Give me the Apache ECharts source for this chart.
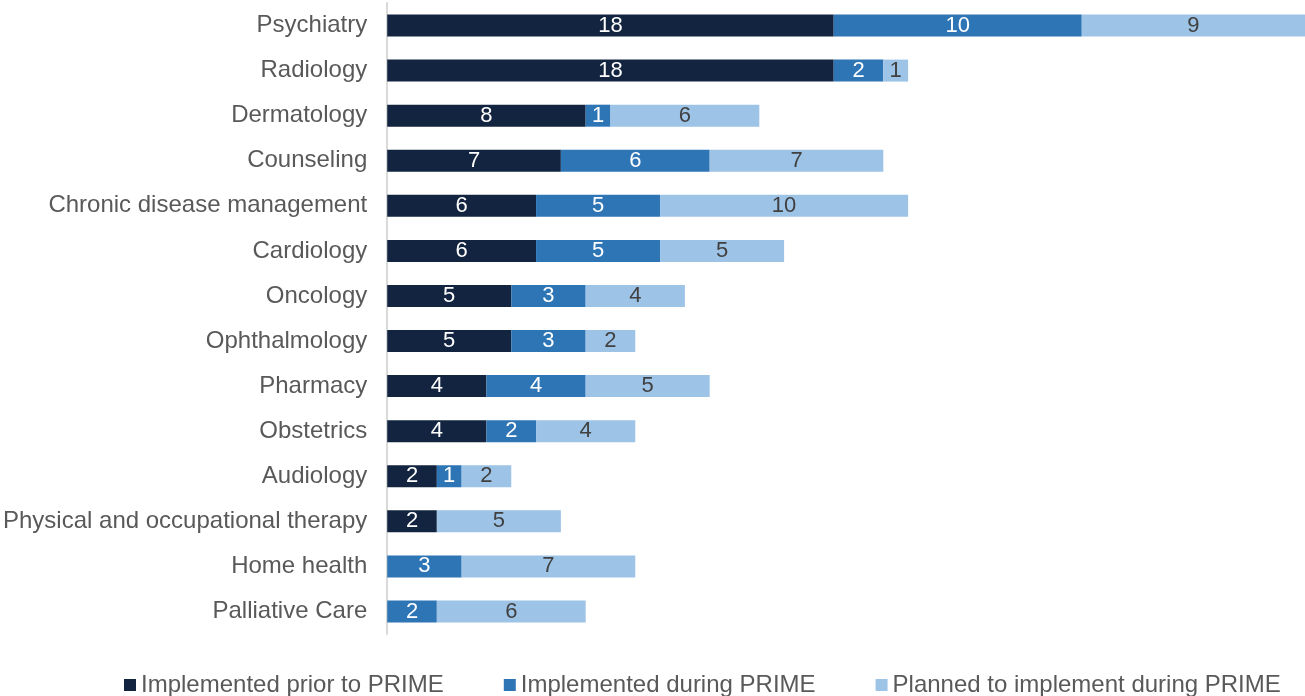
<!DOCTYPE html>
<html>
<head>
<meta charset="utf-8">
<script src="https://cdn.jsdelivr.net/npm/echarts@6/dist/echarts.min.js"></script>
<style>
  html, body { margin: 0; padding: 0; background: #fff; }
  #chart { width: 1305px; height: 696px; }
</style>
</head>
<body>
<div id="chart"></div>
<script>
// Service areas, listed top to bottom
const categories = [
  'Psychiatry', 'Radiology', 'Dermatology', 'Counseling',
  'Chronic disease management', 'Cardiology', 'Oncology', 'Ophthalmology',
  'Pharmacy', 'Obstetrics', 'Audiology', 'Physical and occupational therapy',
  'Home health', 'Palliative Care'
];
const seriesNames = [
  'Implemented prior to PRIME',
  'Implemented during PRIME',
  'Planned to implement during PRIME'
];
const priorToPrime = [18, 18, 8, 7, 6, 6, 5, 5, 4, 4, 2, 2, 0, 0];
const duringPrime  = [10, 2, 1, 6, 5, 5, 3, 3, 4, 2, 1, 0, 3, 2];
const plannedPrime = [9, 1, 6, 7, 10, 5, 4, 2, 5, 4, 2, 5, 7, 6];

const FONT = '"Liberation Sans", Arial, sans-serif';
const colors = ['#12243f', '#2e75b6', '#9dc3e6'];
const labelColors = ['#ffffff', '#ffffff', '#404040'];
const values = [priorToPrime, duringPrime, plannedPrime];

const chart = echarts.init(document.getElementById('chart'));
chart.setOption({
  animation: false,
  textStyle: { fontFamily: FONT },
  grid: { left: 386, right: 0, top: 3, bottom: 62, containLabel: false },
  legend: {
    left: 119,
    top: 673,
    padding: [0, 5, 0, 5],
    itemWidth: 12,
    itemHeight: 12,
    itemGap: 60,
    icon: 'rect',
    textStyle: { fontSize: 24, color: '#595959', fontFamily: FONT },
    data: seriesNames
  },
  xAxis: {
    type: 'value', min: 0, max: 37,
    show: false
  },
  yAxis: {
    type: 'category',
    inverse: true,
    data: categories,
    axisLine: { lineStyle: { color: '#d9d9d9', width: 2 } },
    axisTick: { show: false },
    axisLabel: {
      fontSize: 24, color: '#595959', margin: 20, fontFamily: FONT,
      padding: [3, 0, 0, 0]
    }
  },
  series: values.map((vals, i) => ({
    name: seriesNames[i],
    type: 'bar',
    stack: 'total',
    barWidth: 22,
    itemStyle: { color: colors[i] },
    label: {
      show: true,
      position: 'inside',
      fontSize: 22,
      fontFamily: FONT,
      color: labelColors[i],
      padding: [2, 0, 0, 0],
      formatter: p => (p.value ? String(p.value) : '')
    },
    data: vals
  }))
});
</script>
</body>
</html>
